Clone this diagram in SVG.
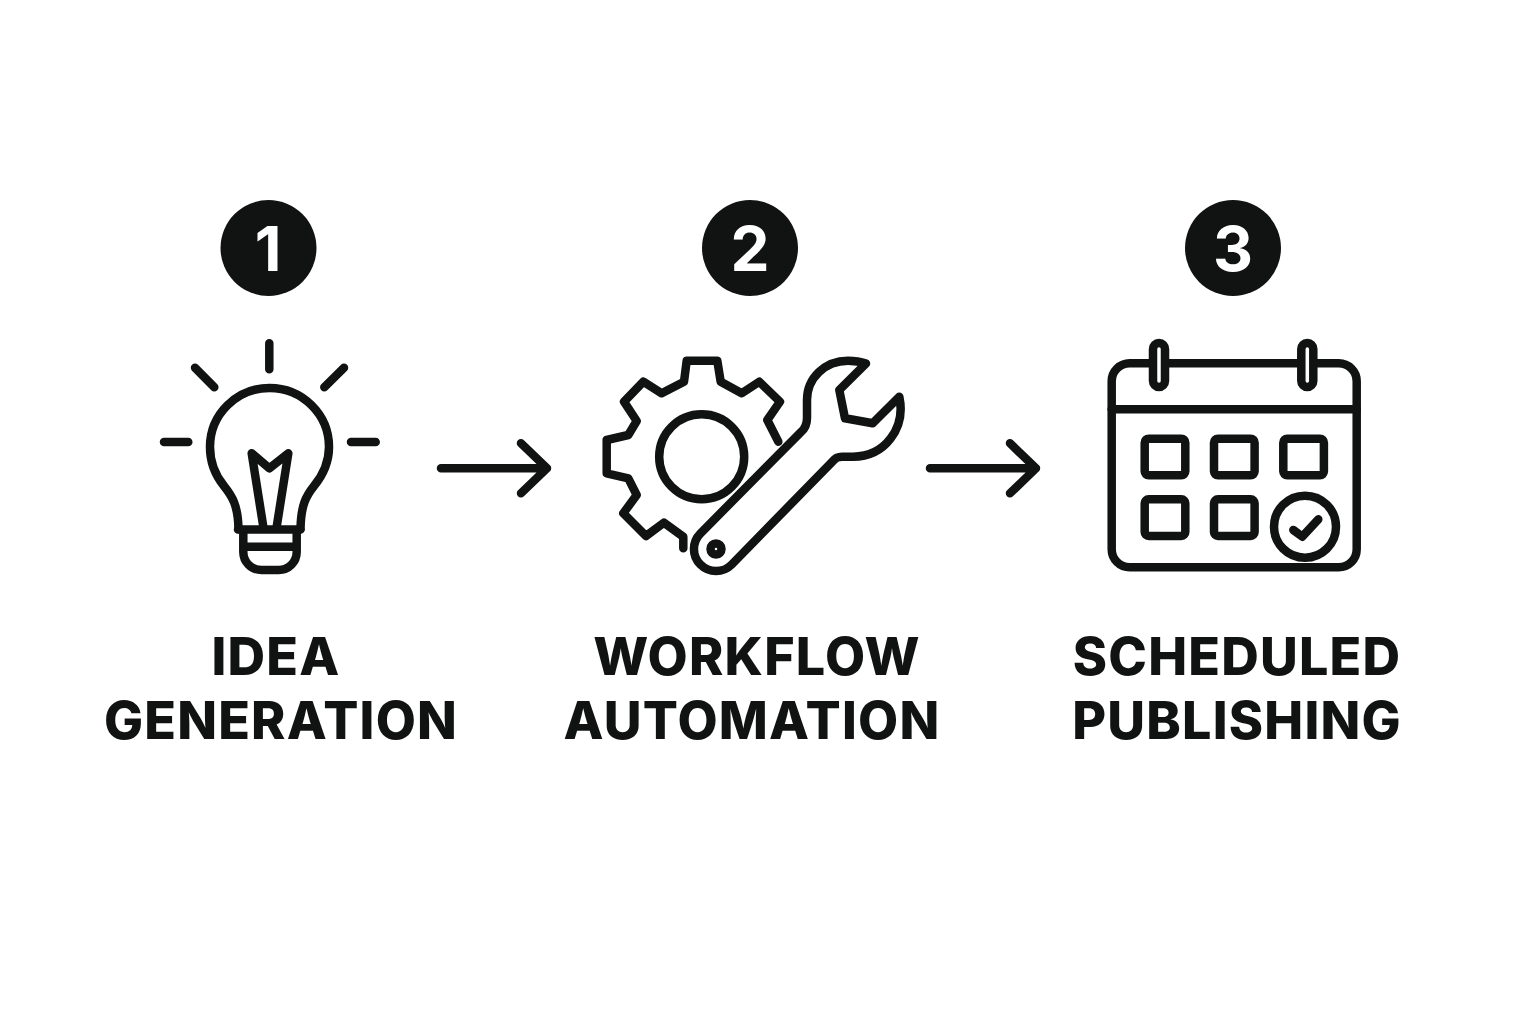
<svg xmlns="http://www.w3.org/2000/svg" width="1536" height="1024" viewBox="0 0 1536 1024">
<defs><style>
.l{fill:none;stroke:#111312;stroke-width:8.500;stroke-linecap:round;stroke-linejoin:round}
.b{fill:#111312}
.n{fill:#fff;font-family:Inter,"Liberation Sans",sans-serif;font-weight:700;font-size:62px;text-anchor:middle}
.t{fill:#111312;font-family:Inter,"Liberation Sans",sans-serif;font-weight:800;font-size:52px;letter-spacing:1.200px;text-anchor:middle}
</style></defs>
<rect width="1536" height="1024" fill="#fff"/>
<g id="connectors">
<path class="l" d="M441 468.300H547M521 443.300L547 468.300L521 493.300"/>
<path class="l" d="M930 468.300H1036M1010 443.300L1036 468.300L1010 493.300"/>
</g>
<g id="step1">
<circle class="b" cx="268.500" cy="248" r="48"/>
<text class="n" x="268" y="271">1</text>
<path class="l" d="M269.300 343.300V369.300M195 367.700L214.300 387.300M344 367.700L324.300 387.300M164 442H188.300M351 442H375.700"/>
<path class="l" d="M238.500 529C238 505 232 496 224 486C215 475 210 462 210 447A59.500 59 0 0 1 329 447C329 462 323 475 314 486C306 496 301 505 300.500 529"/>
<path class="l" d="M238 529.500H300.500M243.300 530V552A18 18 0 0 0 261.300 570H278.700A18 18 0 0 0 296.700 552V530M243.300 546.700H296.700"/>
<path class="l" d="M263.300 526.700L251.700 453.300L269.300 468.300L288.300 453.300L276.700 526.700"/>
<text class="t" x="276" y="675">IDEA</text>
<text class="t" x="281" y="739">GENERATION</text>
</g>
<g id="step2">
<circle class="b" cx="750" cy="248" r="48"/>
<text class="n" x="750" y="271">2</text>
<path class="l" d="M683.300 548.300V536.700L664 522.700L646 536L623.300 513.300L636.700 495L628.300 478.300L606.700 473.300V440L628.300 435L636.700 421L624 401.700L643.300 381.700L661.700 393.300L684 381.700L686.700 360.700H717.300L720.700 381.700L741.700 393.300L759.300 381.700L780 401.700L767.300 420L778.300 441.700"/>
<circle class="l" cx="701.700" cy="456.700" r="42.500"/>
<path class="l" d="M700.400 533.400L801 432Q807 427 807 418V400C807 378 825 360.700 848 360.700Q858 360.700 866 363.500L839.300 390L845 418.300L872.700 423.300L899.300 396.700C906 428 885 456.700 853 456.700H842Q836 456.700 833 461L731.600 564.600A22 22 0 0 1 700.400 533.400Z"/>
<circle class="l" cx="716" cy="549" r="5.500"/>
<text class="t" x="757" y="675">WORKFLOW</text>
<text class="t" x="752" y="739">AUTOMATION</text>
</g>
<g id="step3">
<circle class="b" cx="1233" cy="248" r="48"/>
<text class="n" x="1233" y="271">3</text>
<rect class="l" x="1111.700" y="363.300" width="245" height="204" rx="18"/>
<path class="l" d="M1111.700 409.300H1356.700"/>
<rect class="l" style="fill:#fff" x="1153" y="343" width="12" height="44" rx="6"/>
<rect class="l" style="fill:#fff" x="1301.300" y="343" width="12" height="44" rx="6"/>
<rect class="l" x="1144.700" y="438.700" width="40.600" height="36.600" rx="4"/>
<rect class="l" x="1214" y="438.700" width="40.600" height="36.600" rx="4"/>
<rect class="l" x="1283.300" y="438.700" width="40.600" height="36.600" rx="4"/>
<rect class="l" x="1144.700" y="499.300" width="40.600" height="36.600" rx="4"/>
<rect class="l" x="1214" y="499.300" width="40.600" height="36.600" rx="4"/>
<circle class="l" cx="1305" cy="526.700" r="31"/>
<path class="l" d="M1293.300 530L1302.300 536.700L1318.300 519.300"/>
<text class="t" x="1237" y="675">SCHEDULED</text>
<text class="t" x="1237" y="739">PUBLISHING</text>
</g>
</svg>
